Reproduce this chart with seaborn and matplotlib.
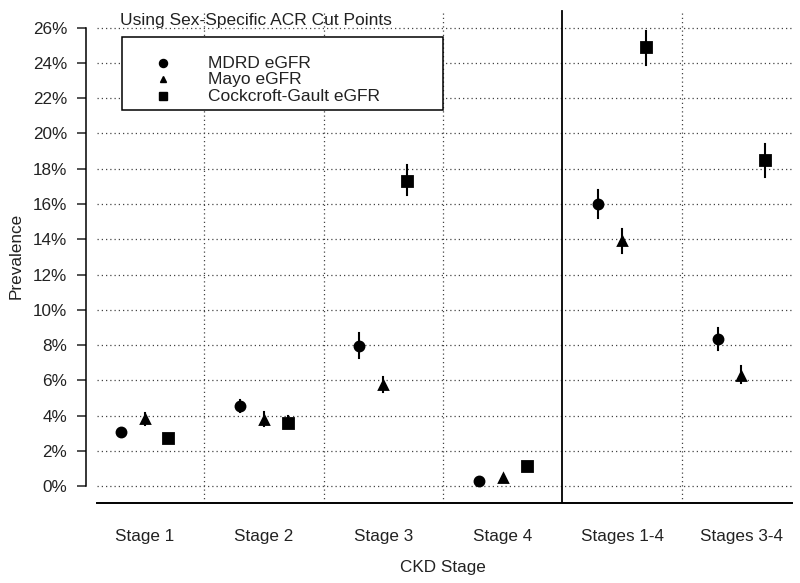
import pandas as pd
import matplotlib
matplotlib.use("Agg")
import matplotlib.pyplot as plt
from matplotlib.patches import Rectangle
from matplotlib.ticker import FuncFormatter
import seaborn as sns

# =========================
# Data (prevalence %, with 95% CI)
# =========================
stages = ["Stage 1", "Stage 2", "Stage 3", "Stage 4", "Stages 1-4", "Stages 3-4"]
methods = ["MDRD eGFR", "Mayo eGFR", "Cockcroft-Gault eGFR"]

mdrd_est = [3.07, 4.55, 7.95, 0.30, 16.0, 8.35]
mdrd_lo = [2.92, 4.20, 7.30, 0.22, 15.2, 7.70]
mdrd_hi = [3.22, 4.90, 8.70, 0.38, 16.8, 9.00]

mayo_est = [3.80, 3.75, 5.75, 0.50, 13.9, 6.25]
mayo_lo = [3.50, 3.40, 5.35, 0.42, 13.25, 5.85]
mayo_hi = [4.15, 4.20, 6.20, 0.58, 14.6, 6.80]

cg_est = [2.75, 3.60, 17.3, 1.15, 24.9, 18.5]
cg_lo = [2.60, 3.30, 16.5, 1.05, 23.9, 17.55]
cg_hi = [2.90, 4.00, 18.2, 1.25, 25.8, 19.4]

series = {
    "MDRD eGFR": (mdrd_est, mdrd_lo, mdrd_hi),
    "Mayo eGFR": (mayo_est, mayo_lo, mayo_hi),
    "Cockcroft-Gault eGFR": (cg_est, cg_lo, cg_hi),
}
marker_map = {"MDRD eGFR": "o", "Mayo eGFR": "^", "Cockcroft-Gault eGFR": "s"}

# long table: lower, estimate, upper per point -> median = estimate, 100% interval = CI
rows = []
for m, (est, lo, hi) in series.items():
    for i, s in enumerate(stages):
        for v in (lo[i], est[i], hi[i]):
            rows.append({"Stage": s, "Method": m, "Prevalence": v})
df = pd.DataFrame(rows)

# =========================
# Plot
# =========================
plt.rcParams["font.family"] = ["Liberation Sans", "DejaVu Sans"]
txt_col = "#222222"
dot_style = (0, (1, 2.4))

fig = plt.figure(figsize=(8, 5.83), dpi=100)
ax = fig.add_axes([0.1075, 0.137, 0.8925, 0.849])

sns.pointplot(
    data=df, x="Stage", y="Prevalence", hue="Method",
    order=stages, hue_order=methods,
    estimator="median", errorbar=("pi", 100),
    palette=["black"] * 3, markers=["o", "^", "s"], linestyles="none",
    dodge=0.4, markersize=6.5, err_kws={"linewidth": 1.5},
    legend=False, ax=ax,
)
# triangles are a bit smaller in the original
for ln in ax.lines:
    if ln.get_marker() == "^":
        ln.set_markersize(5.8)

ax.set_xlim(-0.49, 5.49)
ax.set_ylim(-0.95, 27.1)
ax.set_yticks(range(0, 27, 2))
ax.yaxis.set_major_formatter(FuncFormatter(lambda v, p: f"{int(v)}%"))

# dotted grid
ax.hlines(range(0, 27, 2), -0.40, 5.42, color="#444444", linestyle=dot_style,
          linewidth=0.9, zorder=0)
for xv in [0.5, 1.5, 2.5, 4.5]:
    ax.axvline(xv, ymax=0.995, color="#444444", linestyle=dot_style, linewidth=0.9, zorder=0)
ax.axvline(3.5, ymax=0.995, color="black", linewidth=1.3, zorder=1)

# R-style axes
for sp in ["top", "right"]:
    ax.spines[sp].set_visible(False)
ax.spines["left"].set_bounds(0, 26)
ax.spines["bottom"].set_bounds(-0.40, 5.42)
ax.spines["left"].set_linewidth(1.1)
ax.spines["bottom"].set_linewidth(1.4)
ax.tick_params(axis="y", length=6.5, width=1.1, labelsize=12.3, pad=7, colors=txt_col)
ax.tick_params(axis="x", length=0, labelsize=12.3, pad=18.5, colors=txt_col)

ax.set_xlabel("CKD Stage", fontsize=12.3, labelpad=11.5, color=txt_col)
ax.set_ylabel("Prevalence", fontsize=12.3, labelpad=7, color=txt_col)

ax.text(0.0476, 0.976, "Using Sex-Specific ACR Cut Points", transform=ax.transAxes,
        fontsize=12.5, va="center", ha="left", color=txt_col)

# legend box drawn by hand to match the original spacing
ax.add_patch(Rectangle((0.0504, 0.794), 0.4496, 0.1474, transform=ax.transAxes,
                       facecolor="white", edgecolor="black", linewidth=1.1, zorder=5))
leg_y = [0.889, 0.856, 0.822]
for m, yy in zip(methods, leg_y):
    ax.plot([0.108], [yy], marker=marker_map[m], color="black", linestyle="none",
            markersize=5.8 if m != "Mayo eGFR" else 4.8, transform=ax.transAxes, zorder=6)
    ax.text(0.171, yy, m, transform=ax.transAxes, fontsize=12.5, va="center",
            ha="left", color=txt_col, zorder=6)

plt.savefig("out.png", dpi=100)
